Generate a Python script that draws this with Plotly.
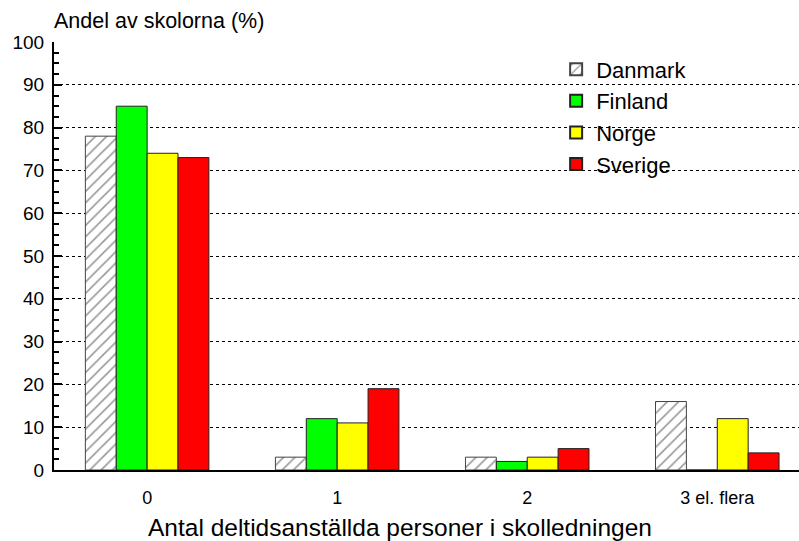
import plotly.graph_objects as go

categories = ["0", "1", "2", "3 el. flera"]
danmark = [78, 3, 3, 16]
finland = [85, 12, 2, 0]
norge = [74, 11, 3, 12]
sverige = [73, 19, 5, 4]
y_ticks = [0, 10, 20, 30, 40, 50, 60, 70, 80, 90, 100]

FONT = "Arial, Liberation Sans, sans-serif"

fig = go.Figure()
fig.add_trace(go.Bar(name="Danmark", x=categories, y=danmark,
                     marker=dict(color="white",
                                 pattern=dict(shape="/", fgcolor="#333333", bgcolor="white", size=8, solidity=0.2),
                                 line=dict(color="#444444", width=1))))
fig.add_trace(go.Bar(name="Finland", x=categories, y=finland,
                     marker=dict(color="#00ff00", line=dict(color="#222222", width=1))))
fig.add_trace(go.Bar(name="Norge", x=categories, y=norge,
                     marker=dict(color="#ffff00", line=dict(color="#222222", width=1))))
fig.add_trace(go.Bar(name="Sverige", x=categories, y=sverige,
                     marker=dict(color="#ff0000", line=dict(color="#222222", width=1))))

fig.update_layout(
    width=799, height=541,
    paper_bgcolor="white", plot_bgcolor="white",
    barmode="group", bargap=0.35, bargroupgap=0,
    margin=dict(l=54, r=0, t=42, b=71),
    font=dict(family=FONT, size=18, color="black"),
    showlegend=True,
    legend=dict(x=0.674, y=0.985, xanchor="left", yanchor="top",
                bgcolor="rgba(0,0,0,0)", font=dict(size=22), tracegroupgap=0,
                itemsizing="constant"),
    xaxis=dict(range=[-0.49, 3.43], showline=True, linecolor="black", linewidth=2,
               ticks="", showgrid=False, tickfont=dict(size=18), automargin=False,
               ticklabelstandoff=10),
    yaxis=dict(range=[0, 100], tickvals=y_ticks, showline=True, linecolor="black", linewidth=2,
               ticks="inside", ticklen=8, tickwidth=2, tickcolor="black", automargin=False,
               ticklabelstandoff=4,
               minor=dict(dtick=2.5, ticks="inside", ticklen=5, tickwidth=1.5, tickcolor="black", showgrid=False),
               showgrid=True, gridcolor="black", griddash="dot", gridwidth=1,
               zeroline=False, tickfont=dict(size=19)),
    annotations=[
        dict(text="Andel av skolorna (%)", xref="paper", yref="paper",
             x=0, y=1, xanchor="left", yanchor="bottom", yshift=7, xshift=-2,
             showarrow=False, font=dict(size=21.5)),
        dict(text="Antal deltidsanställda personer i skolledningen", xref="paper", yref="paper",
             x=0.4645, y=0, xanchor="center", yanchor="middle", yshift=-57,
             showarrow=False, font=dict(size=24.5)),
    ],
)

fig.write_html("out.html", config={"displayModeBar": False},
               post_script="document.body.style.margin='0';")
